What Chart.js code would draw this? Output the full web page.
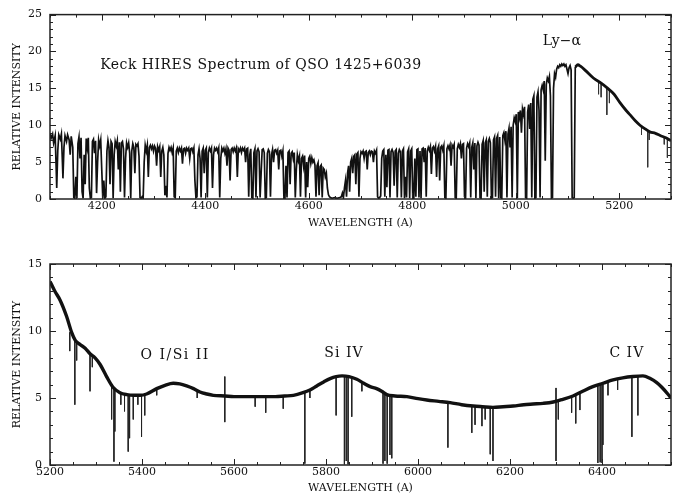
<!DOCTYPE html>
<html>
<head>
<meta charset="utf-8">
<script src="https://cdn.jsdelivr.net/npm/chart.js@4.4.1/dist/chart.umd.min.js"></script>
<style>
  html, body { margin: 0; padding: 0; background: #fff; }
  #wrap { position: relative; width: 681px; height: 497px; overflow: hidden; background: #fff; }
  canvas { position: absolute; left: 0; }
  #blue { top: 0; }
  #red { top: 245px; }
</style>
</head>
<body>
<div id="wrap">
  <canvas id="blue" width="681" height="245"></canvas>
  <canvas id="red" width="681" height="252"></canvas>
</div>
<script>
// ---- Tick labels -------------------------------------------------------
const blueTicks = [4200, 4400, 4600, 4800, 5000, 5200];
const redTicks = [5200, 5400, 5600, 5800, 6000, 6200, 6400];

// ---- Blue half: Lyman-alpha forest, [wavelength (A), relative intensity]
const forestBlue = [
  [4100,8.9],[4102,8.2],[4105,8.8],[4107,7.6],[4110,8.6],[4112,4.0],[4113,1.5],[4115,6.5],[4117,8.7],[4120,8.1],
  [4122,8.8],[4124,5.0],[4125,2.8],[4127,7.0],[4129,8.6],[4132,7.8],[4134,8.7],[4137,8.0],[4139,6.0],[4141,8.5],
  [4144,7.0],[4146,0.2],[4148,0.1],[4150,3.0],[4152,0.1],[4154,7.5],[4156,8.4],[4158,5.5],[4160,8.3],[4162,1.0],
  [4164,0.1],[4166,6.0],[4168,2.0],[4170,8.2],[4172,7.0],[4174,8.3],[4176,1.5],[4178,0.1],[4180,0.2],[4182,7.8],
  [4184,8.1],[4186,6.2],[4188,7.9],[4190,0.8],[4192,5.0],[4194,8.0],[4196,7.2],[4198,8.0],[4200,4.0],[4202,0.1],
  [4204,2.5],[4206,0.1],[4208,0.3],[4210,6.5],[4212,7.9],[4214,7.0],[4216,2.0],[4218,7.8],[4220,7.5],[4222,0.1],
  [4224,6.0],[4226,7.8],[4228,7.2],[4230,7.9],[4232,4.0],[4234,7.7],[4236,1.0],[4238,7.6],[4240,7.8],[4242,6.8],
  [4244,0.2],[4246,5.5],[4248,7.6],[4250,7.0],[4252,7.6],[4254,6.2],[4256,0.1],[4258,6.5],[4260,7.5],[4262,7.0],
  [4264,3.5],[4266,7.4],[4268,7.2],[4270,7.5],[4272,5.8],[4274,0.2],[4276,0.1],[4278,0.3],[4280,0.1],[4282,5.0],
  [4284,7.3],[4286,6.5],[4288,7.3],[4290,3.0],[4292,7.0],[4294,7.3],[4296,6.8],[4298,7.2],[4300,6.5],[4302,7.2],
  [4304,6.9],[4306,4.5],[4308,7.1],[4310,6.6],[4312,7.1],[4314,3.0],[4316,6.5],[4318,7.0],[4320,6.0],[4322,0.5],
  [4324,1.8],[4326,0.2],[4328,6.2],[4330,7.0],[4332,6.6],[4334,7.0],[4336,6.3],[4338,6.9],[4340,0.3],[4342,0.2],
  [4344,6.5],[4346,6.9]
];
const forestMid = [
  [4348,6.3],[4350,6.9],[4352,6.5],[4354,6.9],[4356,4.8],[4358,6.8],[4360,6.9],[4362,6.2],[4364,6.9],[4366,6.6],
  [4368,6.9],[4370,5.5],[4372,6.8],[4374,6.9],[4376,6.4],[4378,6.9],[4380,2.5],[4382,0.2],[4384,0.3],[4386,6.0],
  [4388,6.8],[4390,5.5],[4392,0.2],[4394,6.5],[4396,6.9],[4398,3.5],[4400,6.6],[4402,6.9],[4404,0.2],[4406,6.3],
  [4408,6.9],[4410,6.5],[4412,6.9],[4414,1.5],[4416,6.0],[4418,6.9],[4420,6.6],[4422,6.9],[4424,6.4],[4426,6.9],
  [4428,0.2],[4430,5.5],[4432,6.9],[4434,6.5],[4436,6.9],[4438,6.2],[4440,6.8],[4442,4.5],[4444,6.9],[4446,6.6],
  [4448,2.5],[4450,6.7],[4452,6.9],[4454,6.4],[4456,6.9],[4458,6.5],[4460,6.9],[4462,3.0],[4464,6.8],[4466,6.5],
  [4468,6.9],[4470,6.3],[4472,6.9],[4474,6.6],[4476,6.9],[4478,5.0],[4480,6.8],[4482,6.9],[4484,0.3],[4486,6.0],
  [4488,6.8],[4490,0.2],[4492,0.1],[4494,6.3],[4496,6.8],[4498,0.2],[4500,6.5],[4502,6.8],[4504,6.4],[4506,0.2],
  [4508,3.5],[4510,6.7],[4512,6.8],[4514,6.3],[4516,0.1],[4518,0.2],[4520,6.2],[4522,6.7],[4524,6.4],[4526,0.3],
  [4528,6.0],[4530,6.7],[4532,5.0],[4534,6.6],[4536,6.7],[4538,6.2],[4540,6.6],[4542,4.0],[4544,6.5],[4546,6.6],
  [4548,5.8],[4550,6.5],[4552,0.2],[4554,0.1],[4556,4.5],[4558,0.2],[4560,6.3],[4562,6.5],[4564,2.0],[4566,6.2],
  [4568,6.4],[4570,5.5],[4572,6.3],[4574,0.2],[4576,4.0],[4578,6.0],[4580,5.2],[4582,5.8],[4584,0.3],[4586,5.5],
  [4588,5.8],[4590,4.5],[4592,5.9],[4594,0.2],[4596,5.0],[4598,1.6],[4600,5.5],[4602,5.8],[4604,4.8],[4606,5.6],
  [4608,5.0],[4610,5.3],[4612,4.6],[4614,0.3],[4616,4.5],[4618,4.9],[4620,0.5],[4622,4.4],[4624,4.6],[4626,0.2],
  [4628,4.2],[4630,4.0],[4632,3.0],[4634,3.5],[4636,1.5],[4638,0.6],[4640,0.3],[4642,0.2],[4645,0.1],[4650,0.2],
  [4655,0.1],[4660,0.2],[4663,0.3],[4665,0.8],[4667,0.2],[4669,1.5],[4671,2.5],[4673,0.3],[4675,3.5],[4677,4.5],
  [4679,1.0],[4681,5.0],[4683,5.5],[4685,3.5],[4687,5.8],[4689,6.0],[4691,2.0],[4693,6.1],[4695,6.3],[4697,0.3],
  [4699,5.5]
];
const forestRed = [
  [4701,6.4],[4703,6.2],[4705,6.5],[4707,5.5],[4709,6.4],[4711,6.5],[4713,4.0],[4715,6.3],[4717,6.5],[4719,6.0],
  [4721,6.5],[4723,6.4],[4725,5.0],[4727,6.5],[4729,6.2],[4731,6.6],[4733,0.3],[4735,0.1],[4737,0.2],[4739,0.4],
  [4741,5.5],[4743,6.5],[4745,6.7],[4747,0.3],[4749,6.0],[4751,1.6],[4753,6.6],[4755,6.7],[4757,0.2],[4759,6.4],
  [4761,6.7],[4763,6.3],[4765,1.8],[4767,6.5],[4769,6.7],[4771,0.2],[4773,6.2],[4775,6.7],[4777,6.4],[4779,0.2],
  [4781,6.5],[4783,6.8],[4785,0.1],[4787,3.0],[4789,0.2],[4791,6.4],[4793,6.8],[4795,0.1],[4797,6.5],[4799,6.8],
  [4801,0.2],[4803,0.1],[4805,5.5],[4807,0.3],[4809,6.7],[4811,6.8],[4813,0.2],[4815,6.5],[4817,0.1],[4819,6.8],
  [4821,6.9],[4823,5.0],[4825,6.9],[4827,0.3],[4829,6.5],[4831,7.0],[4833,6.6],[4835,7.1],[4837,3.4],[4839,6.9],
  [4841,7.1],[4843,6.5],[4845,7.1],[4847,3.0],[4849,6.8],[4851,7.2],[4853,2.5],[4855,7.0],[4857,7.2],[4859,6.6],
  [4861,7.2],[4863,0.2],[4865,0.1],[4867,6.8],[4869,7.2],[4871,6.8],[4873,7.3],[4875,4.5],[4877,7.3],[4879,7.0],
  [4881,7.4],[4883,0.2],[4885,0.1],[4887,6.8],[4889,7.4],[4891,7.0],[4893,7.5],[4895,5.5],[4897,7.4],[4899,7.5],
  [4901,0.3],[4903,0.1],[4905,6.9],[4907,7.5],[4909,7.1],[4911,7.6],[4913,0.2],[4915,7.0],[4917,7.6],[4919,4.0],
  [4921,7.6],[4923,0.1],[4925,7.2],[4927,7.7],[4929,7.3],[4931,0.2],[4933,0.1],[4935,7.4],[4937,7.9],[4939,1.0],
  [4941,7.6],[4943,8.0],[4945,0.3],[4947,7.8],[4949,8.2],[4951,7.6],[4953,0.1],[4955,0.2],[4957,8.0],[4959,8.4],
  [4961,0.3],[4963,8.2],[4965,8.6],[4967,0.1],[4969,8.4],[4971,0.2],[4973,0.1],[4975,8.6],[4977,9.0],[4979,8.0],
  [4981,9.2],[4983,0.2],[4985,8.8],[4987,9.6],[4989,7.0],[4991,9.8],[4993,0.2],[4995,10.0],[4997,11.0],[4999,10.5],
  [5001,11.5],[5003,0.1],[5005,11.8],[5007,11.0],[5009,12.0],[5011,9.0],[5013,12.2],[5015,11.5],[5017,12.5],[5019,0.2],
  [5021,0.1],[5023,11.8],[5025,12.8],[5027,9.5],[5029,13.0],[5031,0.2],[5033,13.5],[5035,14.0],[5037,0.1],[5039,0.2],
  [5041,13.8],[5043,14.5],[5045,12.0],[5047,0.2],[5049,14.8],[5051,15.4],[5053,14.8],[5055,16.0],[5057,5.2],[5059,15.5],
  [5061,16.4],[5063,16.0],[5065,16.6],[5067,14.0],[5069,0.1],[5071,0.2],[5073,15.0],[5075,17.0],[5077,16.5],[5079,17.6],
  [5081,18.0],[5083,17.8],[5085,18.2],[5087,18.0],[5089,18.3],[5091,18.1],[5093,18.3],[5095,18.0],[5097,18.2],[5099,17.6],
  [5101,17.0],[5103,17.8],[5105,18.1],[5107,17.5],[5109,0.2],[5111,0.1],[5113,0.2],[5115,17.9]
];
// Red wing of the Lyman-alpha emission line
const lyaWing = [
  [5115,17.9],[5120,18.2],[5125,18.0],[5135,17.4],[5150,16.4],[5165,15.7],[5176,15.1],[5190,14.2],[5201,13.1],[5211,12.2],
  [5221,11.4],[5231,10.6],[5240,10.0],[5250,9.5],[5259,9.1],[5270,8.9],[5279,8.6],[5290,8.3],[5300,7.9]
];
// Narrow absorbers on the wing: [wavelength, continuum, line bottom]
const lyaWingLines = [
  [5160,15.9,14.2],[5165,15.7,13.8],[5176,15.1,11.4],[5181,14.8,13.0],[5243,9.8,8.7],
  [5255,9.3,4.3],[5258,9.1,8.0],[5287,8.4,7.4],[5293,8.2,5.6]
];

// ---- Red half: continuum with O I/Si II, Si IV and C IV emission ------
const redContinuum = [
  [5200,13.7],[5210,13.0],[5222,12.3],[5236,11.1],[5247,9.9],[5255,9.3],[5265,9.0],[5277,8.7],[5287,8.3],[5298,8.0],
  [5309,7.5],[5323,6.6],[5337,5.8],[5352,5.4],[5367,5.25],[5382,5.2],[5396,5.2],[5410,5.3],[5432,5.7],[5450,5.95],
  [5468,6.1],[5482,6.05],[5497,5.9],[5512,5.7],[5526,5.45],[5541,5.3],[5555,5.2],[5580,5.15],[5600,5.1],[5630,5.1],
  [5660,5.1],[5690,5.1],[5710,5.15],[5729,5.2],[5750,5.4],[5765,5.6],[5780,5.9],[5795,6.2],[5809,6.45],[5822,6.6],
  [5835,6.65],[5850,6.6],[5867,6.4],[5882,6.1],[5896,5.85],[5910,5.7],[5921,5.5],[5932,5.25],[5950,5.15],[5976,5.1],
  [6000,4.95],[6019,4.85],[6045,4.75],[6070,4.65],[6095,4.5],[6120,4.4],[6140,4.35],[6163,4.3],[6185,4.35],[6207,4.4],
  [6230,4.5],[6250,4.55],[6272,4.6],[6294,4.7],[6315,4.9],[6337,5.15],[6358,5.5],[6380,5.85],[6402,6.1],[6424,6.35],
  [6445,6.5],[6467,6.6],[6489,6.65],[6505,6.45],[6519,6.15],[6530,5.8],[6543,5.3],[6550,5.0]
];
// Metal-line absorbers and sky residuals: [wavelength, start, end]
const redLines = [
  [5243,9.9,8.5],[5254,9.3,4.5],[5258,9.2,7.8],[5287,8.3,5.5],[5292,8.2,7.3],[5334,6.0,3.4],[5339,5.7,0.25],
  [5341,5.6,2.5],[5354,5.4,4.5],[5362,5.3,4.0],[5370,5.25,1.0],[5373,5.25,2.0],[5381,5.2,3.4],[5391,5.2,4.5],
  [5399,5.2,2.1],[5406,5.25,3.7],[5432,5.7,5.2],[5520,5.5,5.0],[5580,6.6,3.2],[5646,5.1,4.35],[5669,5.1,3.9],
  [5707,5.15,4.2],[5754,5.45,0.1],[5765,5.6,5.0],[5822,6.6,3.7],[5840,6.65,0.05],[5844,6.6,0.3],[5848,6.6,0.05],
  [5856,6.5,3.6],[5878,6.1,5.5],[5924,5.45,0.1],[5928,5.35,0.3],[5933,5.25,0.1],[5939,5.2,0.75],[5943,5.2,0.5],
  [6065,4.65,1.3],[6117,4.4,2.4],[6124,4.4,3.0],[6139,4.35,2.9],[6146,4.35,3.4],[6157,4.3,0.8],[6163,4.3,0.3],
  [6300,5.75,0.3],[6305,4.8,3.4],[6334,5.1,3.9],[6343,5.2,3.1],[6352,5.35,4.1],[6391,6.0,0.15],[6396,6.05,0.2],
  [6400,6.05,0.15],[6402,6.1,1.5],[6413,6.2,5.2],[6434,6.4,5.6],[6465,6.6,2.1],[6478,6.6,3.7]
];

// ---- Helpers -----------------------------------------------------------
const SERIF = "'DejaVu Serif', 'Liberation Serif', serif";
const asPoints = pairs => pairs.map(([x, y]) => ({ x, y }));
// each absorber becomes a vertical stroke; a null breaks the path between strokes
const asStrokes = rows => rows.flatMap(([x, a, b]) => [{ x, y: a }, { x, y: b }, { x, y: null }]);

// Boxed frame with inward major/minor ticks on all four sides
const framePlugin = {
  id: 'frame',
  afterDatasetsDraw(chart, args, opts) {
    const { ctx, chartArea: { left, right, top, bottom }, scales: { x, y } } = chart;
    ctx.save();
    ctx.strokeStyle = '#222';
    ctx.lineWidth = 1;
    ctx.beginPath();
    for (let v = x.min; v <= x.max + 1e-6; v += opts.xMinor) {
      const px = Math.round(x.getPixelForValue(v)) + 0.5;
      const len = (Math.round(v) % opts.xMajor === 0) ? 6 : 3;
      ctx.moveTo(px, bottom); ctx.lineTo(px, bottom - len);
      ctx.moveTo(px, top); ctx.lineTo(px, top + len);
    }
    for (let v = y.min; v <= y.max + 1e-6; v += opts.yMinor) {
      const py = Math.round(y.getPixelForValue(v)) + 0.5;
      const len = (Math.round(v) % opts.yMajor === 0) ? 6 : 3;
      ctx.moveTo(left, py); ctx.lineTo(left + len, py);
      ctx.moveTo(right, py); ctx.lineTo(right - len, py);
    }
    ctx.stroke();
    ctx.lineWidth = 1.5;
    ctx.strokeRect(left, top, right - left, bottom - top);
    ctx.restore();
  }
};

// Line identifications and the plot caption, anchored in data coordinates
const notesPlugin = {
  id: 'notes',
  afterDraw(chart, args, opts) {
    const { ctx, scales: { x, y } } = chart;
    ctx.save();
    ctx.fillStyle = '#111';
    ctx.textBaseline = 'middle';
    (opts.items || []).forEach(n => {
      ctx.font = `${n.size}px ${SERIF}`;
      ctx.letterSpacing = (n.spacing || 0) + 'px';
      ctx.textAlign = n.align || 'center';
      ctx.fillText(n.text, x.getPixelForValue(n.x), y.getPixelForValue(n.y));
    });
    ctx.restore();
  }
};

function spectrumChart(id, cfg) {
  return new Chart(document.getElementById(id), {
    type: 'line',
    data: { datasets: cfg.datasets },
    plugins: [framePlugin, notesPlugin],
    options: {
      responsive: false,
      animation: false,
      devicePixelRatio: 1,
      layout: { padding: { left: 0, right: 10, top: cfg.padTop, bottom: 0 } },
      elements: { point: { radius: 0 }, line: { tension: 0 } },
      plugins: {
        legend: { display: false },
        tooltip: { enabled: false },
        frame: { xMinor: 50, xMajor: 200, yMinor: 1, yMajor: 5 },
        notes: { items: cfg.notes }
      },
      scales: {
        x: {
          type: 'linear', min: cfg.xMin, max: cfg.xMax,
          afterBuildTicks: s => { s.ticks = cfg.xTicks.map(v => ({ value: v })); },
          afterFit: s => { s.height = cfg.xHeight; },
          grid: { display: false, drawTicks: false },
          border: { display: false },
          ticks: { font: { family: SERIF, size: 11 }, color: '#111', padding: 1, maxRotation: 0, autoSkip: false, callback: v => String(v) },
          title: { display: true, text: 'WAVELENGTH (A)', font: { family: SERIF, size: 11 }, color: '#111', padding: { top: 0, bottom: cfg.xTitlePad } }
        },
        y: {
          type: 'linear', min: 0, max: cfg.yMax,
          afterFit: s => { s.width = 50; },
          grid: { display: false, drawTicks: false },
          border: { display: false },
          ticks: { stepSize: 5, font: { family: SERIF, size: 11 }, color: '#111', padding: 8, callback: v => String(v) },
          title: { display: true, text: 'RELATIVE INTENSITY', font: { family: SERIF, size: 11 }, color: '#111', padding: { top: 11, bottom: 0 } }
        }
      }
    }
  });
}

const ink = '#111';

spectrumChart('blue', {
  xMin: 4100, xMax: 5300, yMax: 25, xTicks: blueTicks,
  padTop: 10, xHeight: 46, xTitlePad: 15,
  datasets: [
    { data: asPoints([...forestBlue, ...forestMid, ...forestRed]), borderColor: ink, borderWidth: 1.7, fill: false },
    { data: asPoints(lyaWing), borderColor: ink, borderWidth: 2.8, fill: false, cubicInterpolationMode: 'monotone' },
    { data: asStrokes(lyaWingLines), borderColor: '#333', borderWidth: 1, fill: false, spanGaps: false }
  ],
  notes: [
    { text: 'Keck HIRES Spectrum of QSO 1425+6039', x: 4197, y: 18.1, size: 14, spacing: 0.5, align: 'left' },
    { text: 'Ly\u2212\u03b1', x: 5089, y: 21.4, size: 14 }
  ]
});

spectrumChart('red', {
  xMin: 5200, xMax: 6550, yMax: 15, xTicks: redTicks,
  padTop: 19, xHeight: 32, xTitlePad: 2,
  datasets: [
    { data: asPoints(redContinuum), borderColor: ink, borderWidth: 3.4, fill: false, cubicInterpolationMode: 'monotone' },
    { data: asStrokes(redLines), borderColor: '#222', borderWidth: 1, fill: false, spanGaps: false }
  ],
  notes: [
    { text: 'O I/Si II', x: 5472, y: 8.2, size: 14, spacing: 1.5 },
    { text: 'Si IV', x: 5839, y: 8.3, size: 14, spacing: 1 },
    { text: 'C IV', x: 6454, y: 8.35, size: 14, spacing: 1 }
  ]
});
</script>
</body>
</html>
